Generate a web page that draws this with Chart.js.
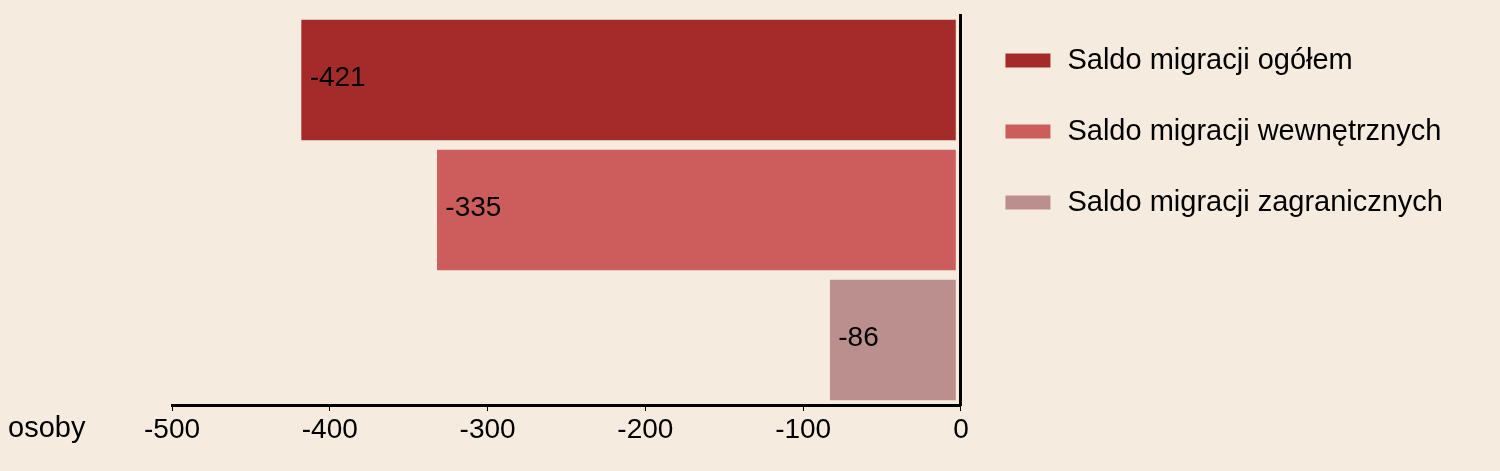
<!DOCTYPE html>
<html lang="pl">
  <head>
    <meta charset="UTF-8" />
    <title>Saldo migracji</title>
    <script src="https://cdn.jsdelivr.net/npm/chart.js@4.4.1/dist/chart.umd.min.js"></script>
    <style>
      html, body { margin: 0; padding: 0; background: #f5ecdf; }
    </style>
  </head>
  <body>
    <canvas id="myChart" width="1500" height="471"></canvas>

    <script>
      // data
      const categories = [""];
      const seriesNames = [
        "Saldo migracji ogółem",
        "Saldo migracji wewnętrznych",
        "Saldo migracji zagranicznych",
      ];
      const totalValues = [-421];
      const internalValues = [-335];
      const foreignValues = [-86];
      const xTicks = [-500, -400, -300, -200, -100, 0];
      const unitLabel = "osoby";

      const bg = "#f5ecdf";
      const colors = ["#a52a2a", "#cd5c5c", "#bc8f8f"];

      Chart.defaults.font.family = "'Liberation Sans', Arial, sans-serif";
      Chart.defaults.color = "#000";

      const seriesValues = [totalValues, internalValues, foreignValues];

      // value labels inside the bars + unit text
      const labelsPlugin = {
        id: "labels",
        afterDatasetsDraw(chart) {
          const ctx = chart.ctx;
          ctx.save();
          ctx.font = "28px 'Liberation Sans', Arial, sans-serif";
          ctx.fillStyle = "#000";
          ctx.textAlign = "left";
          ctx.textBaseline = "middle";
          chart.data.datasets.forEach((ds, i) => {
            const meta = chart.getDatasetMeta(i);
            meta.data.forEach((bar, j) => {
              ctx.fillText(String(ds.data[j]), bar.x + 13, bar.y - 2);
            });
          });
          // unit
          const xs = chart.scales.x;
          ctx.font = "29px 'Liberation Sans', Arial, sans-serif";
          ctx.textBaseline = "alphabetic";
          ctx.fillText(unitLabel, 8, xs.top + 32);
          ctx.restore();
        },
      };

      new Chart(document.getElementById("myChart"), {
        type: "bar",
        data: {
          labels: categories,
          datasets: seriesNames.map((name, i) => ({
            label: name,
            data: seriesValues[i],
            backgroundColor: colors[i],
            borderColor: bg,
            borderWidth: 5,
            borderSkipped: false,
            categoryPercentage: 1,
            barPercentage: 1,
          })),
        },
        options: {
          indexAxis: "y",
          responsive: false,
          animation: false,
          layout: { padding: { top: 4, left: 172, right: 47, bottom: 0 } },
          scales: {
            x: {
              type: "linear",
              position: "bottom",
              min: xTicks[0],
              max: xTicks[xTicks.length - 1],
              afterFit: (s) => { s.height = 66; },
              ticks: {
                stepSize: 100,
                padding: 2,
                font: { size: 28 },
                color: "#000",
              },
              grid: {
                drawOnChartArea: false,
                drawTicks: true,
                tickLength: 6,
                color: "#000",
                lineWidth: 1,
              },
              border: { display: true, width: 3, color: "#000", z: 1 },
            },
            y: {
              position: "right",
              afterFit: (s) => { s.width = 0; },
              ticks: { display: false },
              grid: { display: false, drawTicks: false },
              border: { display: true, width: 3, color: "#000", z: 1 },
            },
          },
          plugins: {
            // spacer so the plot starts a bit lower than the legend
            title: {
              display: true,
              text: " ",
              fullSize: false,
              font: { size: 1, lineHeight: 1 },
              padding: { top: 10, bottom: 0 },
            },
            legend: {
              position: "right",
              align: "start",
              maxWidth: 700,
              labels: {
                boxWidth: 50,
                boxHeight: 19,
                padding: 42,
                font: { size: 29 },
                color: "#000",
              },
            },
            tooltip: { enabled: false },
          },
        },
        plugins: [labelsPlugin],
      });
    </script>
  </body>
</html>
